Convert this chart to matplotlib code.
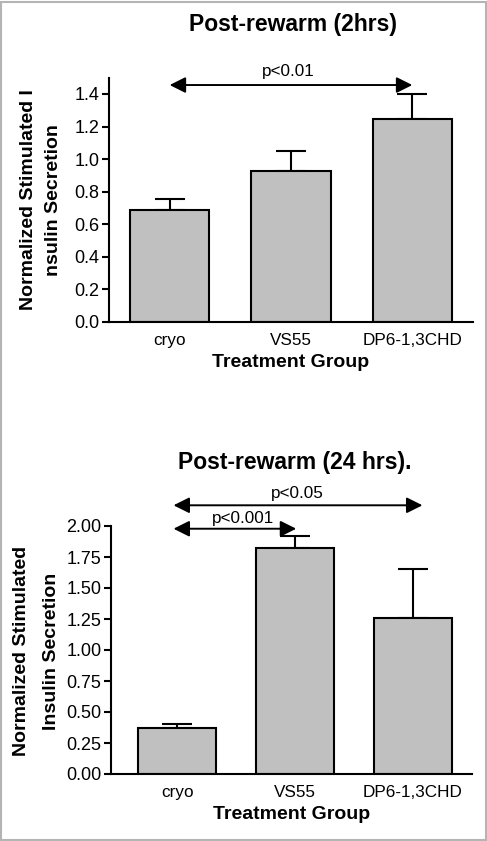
import numpy as np
import matplotlib.pyplot as plt
from matplotlib.patches import Rectangle

plt.rcParams['font.family'] = ['Liberation Sans', 'DejaVu Sans']

groups = ["cryo", "VS55", "DP6-1,3CHD"]

# 2 hrs post-rewarm
mean_2h = [0.69, 0.925, 1.245]
sem_2h = [0.065, 0.125, 0.155]

# 24 hrs post-rewarm
mean_24h = [0.375, 1.825, 1.255]
sem_24h = [0.027, 0.093, 0.40]

bar_color = "#c0c0c0"
W, H = 487, 841

fig = plt.figure(figsize=(W / 100, H / 100), dpi=100)

ax1 = fig.add_axes([109 / W, 1 - 322 / H, 364 / W, (322 - 77.7) / H])
ax2 = fig.add_axes([111 / W, 1 - 774 / H, 361 / W, 248 / H])


def draw_panel(ax, means, sems):
    x = np.arange(len(groups))
    ax.bar(x, means, width=0.655, color=bar_color, edgecolor="black", linewidth=1.5, zorder=2)
    ax.errorbar(x, means, yerr=[np.zeros(len(sems)), sems], fmt="none", ecolor="black",
                elinewidth=1.5, capsize=11, capthick=1.5, zorder=1)
    ax.set_xticks(x)
    ax.set_xticklabels(groups, fontsize=12.3)
    ax.tick_params(axis="x", length=0, pad=8)
    ax.tick_params(axis="y", length=5, width=1.5, labelsize=13, pad=2)
    for s in ["top", "right"]:
        ax.spines[s].set_visible(False)
    for s in ["left", "bottom"]:
        ax.spines[s].set_linewidth(1.5)
    ax.set_xlabel("Treatment Group", fontsize=14, fontweight="bold", labelpad=4)


def bracket(ax, x0, x1, y, label, tx, ty):
    ax.annotate("", xy=(x1, y), xytext=(x0, y), annotation_clip=False,
                arrowprops=dict(arrowstyle="<|-|>", color="black", lw=1.4,
                                mutation_scale=24, shrinkA=0, shrinkB=0))
    ax.text(tx, ty, label, ha="center", va="center", fontsize=12.3, clip_on=False)


# top panel
draw_panel(ax1, mean_2h, sem_2h)
ax1.set_xlim(-0.5, 2.5)
ax1.set_ylim(0, 1.5)
ax1.set_yticks(np.arange(0, 1.41, 0.2))
ax1.set_yticklabels([f"{v:.1f}" for v in np.arange(0, 1.41, 0.2)])
bracket(ax1, 0.0, 2.0, 1.455, "p<0.01", 0.98, 1.535)

# bottom panel
draw_panel(ax2, mean_24h, sem_24h)
ax2.set_xlim(-0.56, 2.5)
ax2.set_ylim(0, 2.0)
ax2.set_yticks(np.arange(0, 2.01, 0.25))
ax2.set_yticklabels([f"{v:.2f}" for v in np.arange(0, 2.01, 0.25)])
bracket(ax2, -0.03, 2.08, 2.167, "p<0.05", 1.02, 2.26)
bracket(ax2, -0.03, 1.01, 1.978, "p<0.001", 0.56, 2.06)

# titles and y labels
fig.text(293 / W, 1 - 25 / H, "Post-rewarm (2hrs)", ha="center", va="center",
         fontsize=16.5, fontweight="bold")
fig.text(295 / W, 1 - 462 / H, "Post-rewarm (24 hrs).", ha="center", va="center",
         fontsize=16.5, fontweight="bold")
fig.text(41 / W, 1 - 200 / H, "Normalized Stimulated I\nnsulin Secretion", rotation=90,
         ha="center", va="center", multialignment="center", fontsize=14, fontweight="bold",
         linespacing=1.55)
fig.text(36.5 / W, 1 - 651 / H, "Normalized Stimulated\nInsulin Secretion", rotation=90,
         ha="center", va="center", multialignment="center", fontsize=14, fontweight="bold",
         linespacing=2.0)

# outer frame
fig.patches.append(Rectangle((0.002, 0.001), 0.995, 0.997, transform=fig.transFigure,
                             fill=False, edgecolor="#b4b4b4", linewidth=1.5))

fig.savefig("out.png", dpi=100)
